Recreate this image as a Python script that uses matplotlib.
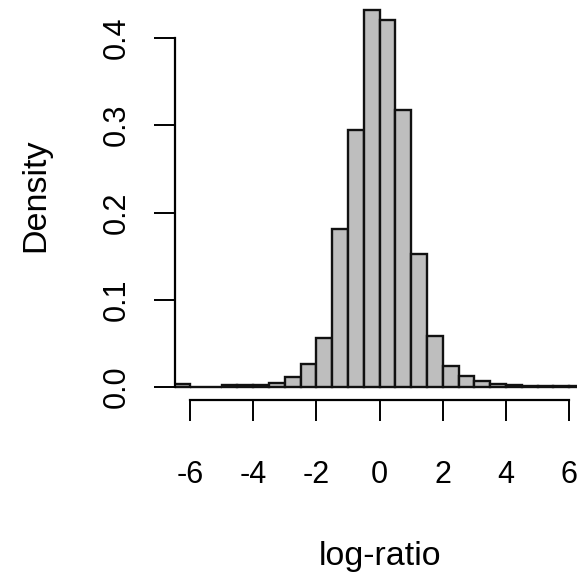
import matplotlib
matplotlib.use("Agg")
import matplotlib.pyplot as plt
import numpy as np

# Histogram breaks (left edges, width 0.5) and densities
breaks = [-6.5, -6.0, -5.5, -5.0, -4.5, -4.0, -3.5, -3.0, -2.5, -2.0, -1.5, -1.0,
          -0.5, 0.0, 0.5, 1.0, 1.5, 2.0, 2.5, 3.0, 3.5, 4.0, 4.5, 5.0, 5.5, 6.0, 6.5]
density = [0.003, 0.0, 0.0, 0.002, 0.002, 0.002, 0.005, 0.011, 0.026, 0.056, 0.181, 0.294,
           0.432, 0.421, 0.318, 0.153, 0.058, 0.024, 0.013, 0.007, 0.004, 0.002, 0.0015,
           0.0015, 0.0015, 0.0015]
x_ticks = [-6, -4, -2, 0, 2, 4, 6]
y_ticks = [0.0, 0.1, 0.2, 0.3, 0.4]
y_ticklabels = ["0.0", "0.1", "0.2", "0.3", "0.4"]

plt.rcParams['font.family'] = ['Liberation Sans', 'DejaVu Sans']
plt.rcParams['axes.unicode_minus'] = False

W = H = 577
fig = plt.figure(figsize=(W / 100, H / 100), dpi=100)

# pixel geometry
ax_left_px, ax_bottom_px = 175, 400
ax = fig.add_axes([ax_left_px / W, (H - ax_bottom_px) / H, (W - ax_left_px) / W, ax_bottom_px / H])

x0_px, x_scale = 379.65, 31.6
y0_px, y_scale = 387.0, 872.5
ax.set_xlim((ax_left_px - x0_px) / x_scale, (W - x0_px) / x_scale)
ax.set_ylim(-(ax_bottom_px - y0_px) / y_scale, y0_px / y_scale)

edges = np.array(breaks)
ax.bar(edges[:-1], density, width=np.diff(edges), align='edge',
       color='#BEBEBE', edgecolor='#111111', linewidth=1.7, zorder=2)

for s in ['top', 'right']:
    ax.spines[s].set_visible(False)
ax.spines['left'].set_bounds(0, 0.4)
ax.spines['bottom'].set_bounds(-6, 6)
ax.spines['left'].set_linewidth(1.6)
ax.spines['bottom'].set_linewidth(1.6)

ax.set_xticks(x_ticks)
ax.set_xticklabels([str(t) for t in x_ticks])
ax.set_yticks(y_ticks)
ax.set_yticklabels(y_ticklabels, rotation=90, va='center')
ax.tick_params(axis='both', direction='out', length=15, width=1.4, labelsize=22, color='black')
ax.tick_params(axis='x', pad=28)
ax.tick_params(axis='y', pad=16)

fig.text(x0_px / W, 1 - 565 / H, 'log-ratio', ha='center', va='baseline', fontsize=24.5)
fig.text(44 / W, 1 - 195 / H, 'Density', ha='center', va='baseline', rotation=90,
         rotation_mode='anchor', fontsize=24.5)

fig.savefig('out.png', dpi=100)
